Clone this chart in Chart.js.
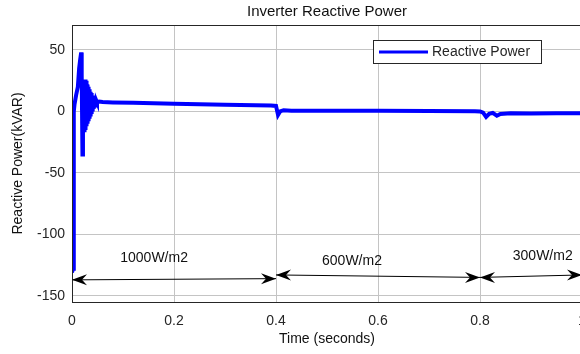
<!DOCTYPE html>
<html>
<head>
<meta charset="utf-8">
<script src="https://cdn.jsdelivr.net/npm/chart.js@4.4.1/dist/chart.umd.min.js"></script>
<style>
  html, body { margin: 0; padding: 0; background: #fff; overflow: hidden; width: 580px; height: 354px; }
  canvas { display: block; }
</style>
</head>
<body>
<canvas id="qChart" width="600" height="354"></canvas>
<script>
// ---- data ----
const timeS = [
  0, 0.002, 0.0035, 0.005, 0.008, 0.0115, 0.014, 0.016, 0.018, 0.019, 0.0205,
  0.0215, 0.0225, 0.0235, 0.0245, 0.0255, 0.0265, 0.0275, 0.0285, 0.0295, 0.0305,
  0.0315, 0.0325, 0.0335, 0.0345, 0.0355, 0.0365, 0.0375, 0.0385, 0.0395, 0.0405,
  0.0415, 0.0425, 0.0435, 0.0445, 0.0455, 0.0465, 0.0475, 0.049, 0.053, 0.06,
  0.08, 0.12, 0.2, 0.3, 0.39, 0.4, 0.404, 0.408, 0.415, 0.43, 0.5, 0.6, 0.7, 0.79,
  0.8, 0.806, 0.812, 0.818, 0.825, 0.833, 0.84, 0.86, 0.9, 0.95, 1.0
];
const reactiveKvar = [
  -131, -128, 0, 6, 13, 20, 35, 42, 48, 30, -35,
  20, -10, 24, -17, 26, -15, 25, -12, 22, -10,
  20, -8, 18, -6, 16, -4, 15, -2, 13, 0,
  12, 2, 11, 3, 10, 5, 9, 7.5, 8, 7.6,
  7.3, 7, 6.2, 5.4, 4.8, 4.5, -2.8, 0, 1, 0.6, 0.6, 0.5, 0.4, 0.2,
  0, -1, -4.5, -2, -1.2, -3.5, -2, -1.5, -1.6, -1.4, -1.5
];

const xTicks = [0, 0.2, 0.4, 0.6, 0.8, 1];
const yTicks = [-150, -100, -50, 0, 50];

// irradiance zones: double arrows and their labels
const zoneLabels = ['1000W/m2', '600W/m2', '300W/m2'];
const zoneStart = [0, 0.4, 0.8];
const zoneEnd = [0.4, 0.8, 1];
const arrowYStart = [-137, -133, -135];
const arrowYEnd = [-136, -135, -133];
const labelX = [0.161, 0.549, 0.923];
const labelY = [-119, -121.5, -118];

const ink = '#262626';
const font = "'Liberation Sans', Arial, sans-serif";

const mainData = timeS.map((t, i) => ({ x: t, y: reactiveKvar[i] }));
const arrowSets = zoneLabels.map((lbl, i) => ({
  label: 'arrow ' + lbl,
  data: [{ x: zoneStart[i], y: arrowYStart[i] }, { x: zoneEnd[i], y: arrowYEnd[i] }],
  borderColor: '#000',
  borderWidth: 1,
  pointRadius: 0,
  clip: false,
  isArrow: true
}));

function arrowHead(ctx, tx, ty, dir) {
  // notched arrow head pointing in dir (+1 right, -1 left)
  const len = 15, half = 5.5, notch = 10;
  ctx.beginPath();
  ctx.moveTo(tx, ty);
  ctx.lineTo(tx - dir * len, ty - half);
  ctx.lineTo(tx - dir * notch, ty);
  ctx.lineTo(tx - dir * len, ty + half);
  ctx.closePath();
  ctx.fill();
}

const decorPlugin = {
  id: 'decor',
  afterDatasetsDraw(chart) {
    const { ctx, chartArea: a, scales } = chart;
    ctx.save();
    // box
    ctx.strokeStyle = ink;
    ctx.lineWidth = 1;
    ctx.strokeRect(a.left + 0.5, a.top + 0.5, a.right - a.left, a.bottom - a.top);

    // arrow heads
    ctx.fillStyle = '#000';
    chart.data.datasets.forEach((ds, i) => {
      if (!ds.isArrow) return;
      const pts = chart.getDatasetMeta(i).data;
      arrowHead(ctx, pts[0].x, pts[0].y, -1);
      arrowHead(ctx, pts[1].x, pts[1].y, 1);
    });

    // zone labels
    ctx.fillStyle = '#111';
    ctx.font = '14px ' + font;
    ctx.textAlign = 'center';
    ctx.textBaseline = 'middle';
    zoneLabels.forEach((lbl, i) => {
      ctx.fillText(lbl, scales.x.getPixelForValue(labelX[i]), scales.y.getPixelForValue(labelY[i]));
    });

    // legend box
    const lx = a.right - 209, ly = a.top + 15, lw = 168, lh = 23;
    ctx.fillStyle = '#fff';
    ctx.fillRect(lx, ly, lw, lh);
    ctx.strokeStyle = ink;
    ctx.strokeRect(lx + 0.5, ly + 0.5, lw, lh);
    ctx.strokeStyle = '#0000ff';
    ctx.lineWidth = 3;
    ctx.beginPath();
    ctx.moveTo(lx + 6, ly + 12);
    ctx.lineTo(lx + 55, ly + 12);
    ctx.stroke();
    ctx.fillStyle = ink;
    ctx.textAlign = 'left';
    ctx.font = '14px ' + font;
    ctx.fillText(chart.data.datasets[0].label, lx + 59, ly + 12.5);

    // title
    ctx.textAlign = 'center';
    ctx.font = '15px ' + font;
    ctx.fillStyle = '#111';
    ctx.fillText('Inverter Reactive Power', (a.left + a.right) / 2, 12);
    ctx.restore();
  }
};

const chart = new Chart(document.getElementById('qChart'), {
  type: 'line',
  data: {
    datasets: [{
      label: 'Reactive Power',
      data: mainData,
      borderColor: '#0000ff',
      borderWidth: 4,
      pointRadius: 0,
      tension: 0
    }, ...arrowSets]
  },
  options: {
    responsive: false,
    animation: false,
    devicePixelRatio: 1,
    layout: { padding: { top: 25, right: 18, left: 0, bottom: 0 } },
    plugins: {
      legend: { display: false },
      title: { display: false },
      tooltip: { enabled: false }
    },
    scales: {
      x: {
        type: 'linear',
        min: 0,
        max: 1,
        afterBuildTicks: s => { s.ticks = xTicks.map(v => ({ value: v })); },
        afterFit: s => { s.height = 52; },
        grid: { color: '#c4c4c4', drawTicks: false },
        border: { color: ink, width: 1 },
        ticks: {
          color: ink,
          padding: 11,
          maxRotation: 0,
          font: { family: font, size: 14 },
          callback: v => String(+v.toFixed(1))
        },
        title: {
          display: true,
          text: 'Time (seconds)',
          color: '#111',
          font: { family: font, size: 14 },
          padding: { top: 0, bottom: 6 }
        }
      },
      y: {
        type: 'linear',
        min: -155,
        max: 70.3,
        afterBuildTicks: s => { s.ticks = yTicks.map(v => ({ value: v })); },
        afterFit: s => { s.width = 72; },
        grid: { color: '#c4c4c4', drawTicks: false },
        border: { color: ink, width: 1 },
        ticks: {
          color: ink,
          padding: 7,
          font: { family: font, size: 14 }
        },
        title: {
          display: true,
          text: 'Reactive Power(kVAR)',
          color: '#111',
          font: { family: font, size: 14 },
          padding: { top: 10, bottom: 0 }
        }
      }
    }
  },
  plugins: [decorPlugin]
});
</script>
</body>
</html>
